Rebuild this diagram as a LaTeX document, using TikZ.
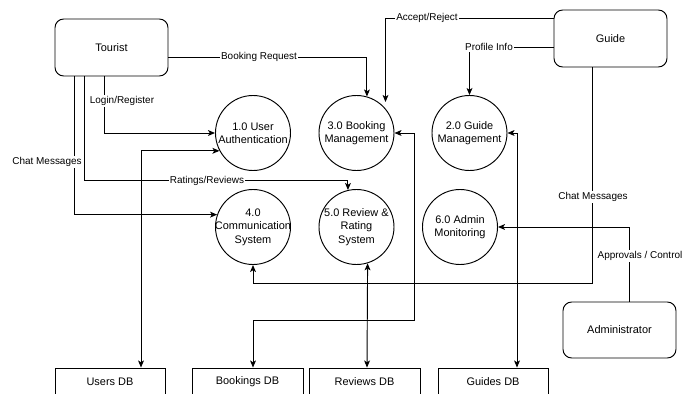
\documentclass[tikz,border=0pt]{standalone}
\usepackage{fontspec}
\setmainfont{Liberation Sans}
\usetikzlibrary{arrows.meta}
\newcommand\nodefnt{\fontsize{9.35}{11.5}\selectfont}
\newcommand\lblfnt{\fontsize{8.5}{10}\selectfont}
\begin{document}
\begin{tikzpicture}[x=0.3mm,y=-0.3mm,
  ent/.style={draw, rounded corners=2.6mm, minimum width=33.9mm, minimum height=17.1mm, font=\nodefnt, line width=0.8pt},
  proc/.style={draw, circle, minimum size=22.5mm, inner sep=0pt, line width=0.8pt},
  ptext/.style={align=center, font=\nodefnt, inner sep=0pt},
  store/.style={draw, minimum height=8.4mm, font=\nodefnt, line width=0.8pt},
  lbl/.style={fill=white, inner sep=1pt, font=\lblfnt},
  tip/.style={Stealth[length=6pt,width=5pt,inset=1.5pt]},
  flow/.style={line width=0.8pt, -{Stealth[length=6pt,width=5pt,inset=1.5pt]}},
  bi/.style={line width=0.8pt, {Stealth[length=6pt,width=5pt,inset=1.5pt]}-{Stealth[length=6pt,width=5pt,inset=1.5pt]}}]
\clip (0,0) rectangle (691,394);
\fill[white] (0,0) rectangle (691,394);

% external entities
\node[ent] (tourist) at (111.5,47.5) {Tourist};
\node[ent] (guide) at (610.5,38.5) {Guide};
\node[ent, minimum height=16.8mm] (admin) at (619.5,330) {Administrator};

% processes
\node[proc] (p1) at (253,133) {};
\node[ptext] (t1) at (p1) {1.0 User\\Authentication};
\node[proc] (p3) at (356.5,133) {};
\node[ptext] (t3) at (p3) {3.0 Booking\\Management};
\node[proc] (p2) at (469.5,133) {};
\node[ptext] (t2) at (p2) {2.0 Guide\\Management};
\node[proc] (p4) at (253,227) {};
\node[ptext] (t4) at (p4) {4.0\\Communication\\System};
\node[proc] (p5) at (356.5,227) {};
\node[ptext] (t5) at (p5) {5.0 Review \&\\Rating\\System};
\node[proc] (p6) at (460,227) {};
\node[ptext] (t6) at (p6) {6.0 Admin\\Monitoring};

% data stores
\node[store, minimum width=33mm] (usersdb) at (110,382) {Users DB};
\node[store, minimum width=33.3mm] (bookingsdb) at (247.5,382) {Bookings DB};
\node[store, minimum width=33.3mm] (reviewsdb) at (364.5,382) {Reviews DB};
\node[store, minimum width=33mm] (guidesdb) at (493,382) {Guides DB};

% flows
\draw[flow] ([yshift=-2.85mm]tourist.east) -| (p3.74);
\draw[flow] ([yshift=6.15mm]guide.west) -| ([shift={(29,-31)}]p3.center);
\draw[flow] ([yshift=-2.55mm]guide.west) -| (p2.north);
\draw[flow] ([xshift=-2.25mm]tourist.south) |- (p1.west);
\draw[bi] ([xshift=9.3mm]usersdb.north) |- (p1.208);
\draw[flow] ([xshift=-11.25mm]tourist.south) |- (p4.161);
\draw[flow] ([xshift=-8.25mm]tourist.south) -- ++(0,104) -| (p5.103);
\draw[flow] ([xshift=-5.55mm]guide.south) -- ++(0,216) -| (p4.south);
\draw[flow] ([xshift=2.85mm]admin.north) |- (p6.east);
\draw[bi] ([xshift=1.65mm]bookingsdb.north) -- ++(0,-47) -| ([xshift=5.85mm]p3.east) -- (p3.east);
\draw[bi] ([xshift=0.75mm]reviewsdb.north) -- (p5.287);
\draw[bi] ([xshift=7.2mm]guidesdb.north) |- (p2.east);

% labels
\node[lbl] (lb1) at (259,57) {Booking Request};
\node[lbl] (lb2) at (427,18) {Accept/Reject};
\node[lbl] (lb3) at (489,47) {Profile Info};
\node[lbl] (lb4) at (122,101) {Login/Register};
\node[lbl] (lb5) at (47,162) {Chat Messages};
\node[lbl] (lb6) at (207,181) {Ratings/Reviews};
\node[lbl] (lb7) at (593,197) {Chat Messages};
\node[lbl] (lb8) at (640,256) {Approvals / Control};
\end{tikzpicture}
\end{document}
